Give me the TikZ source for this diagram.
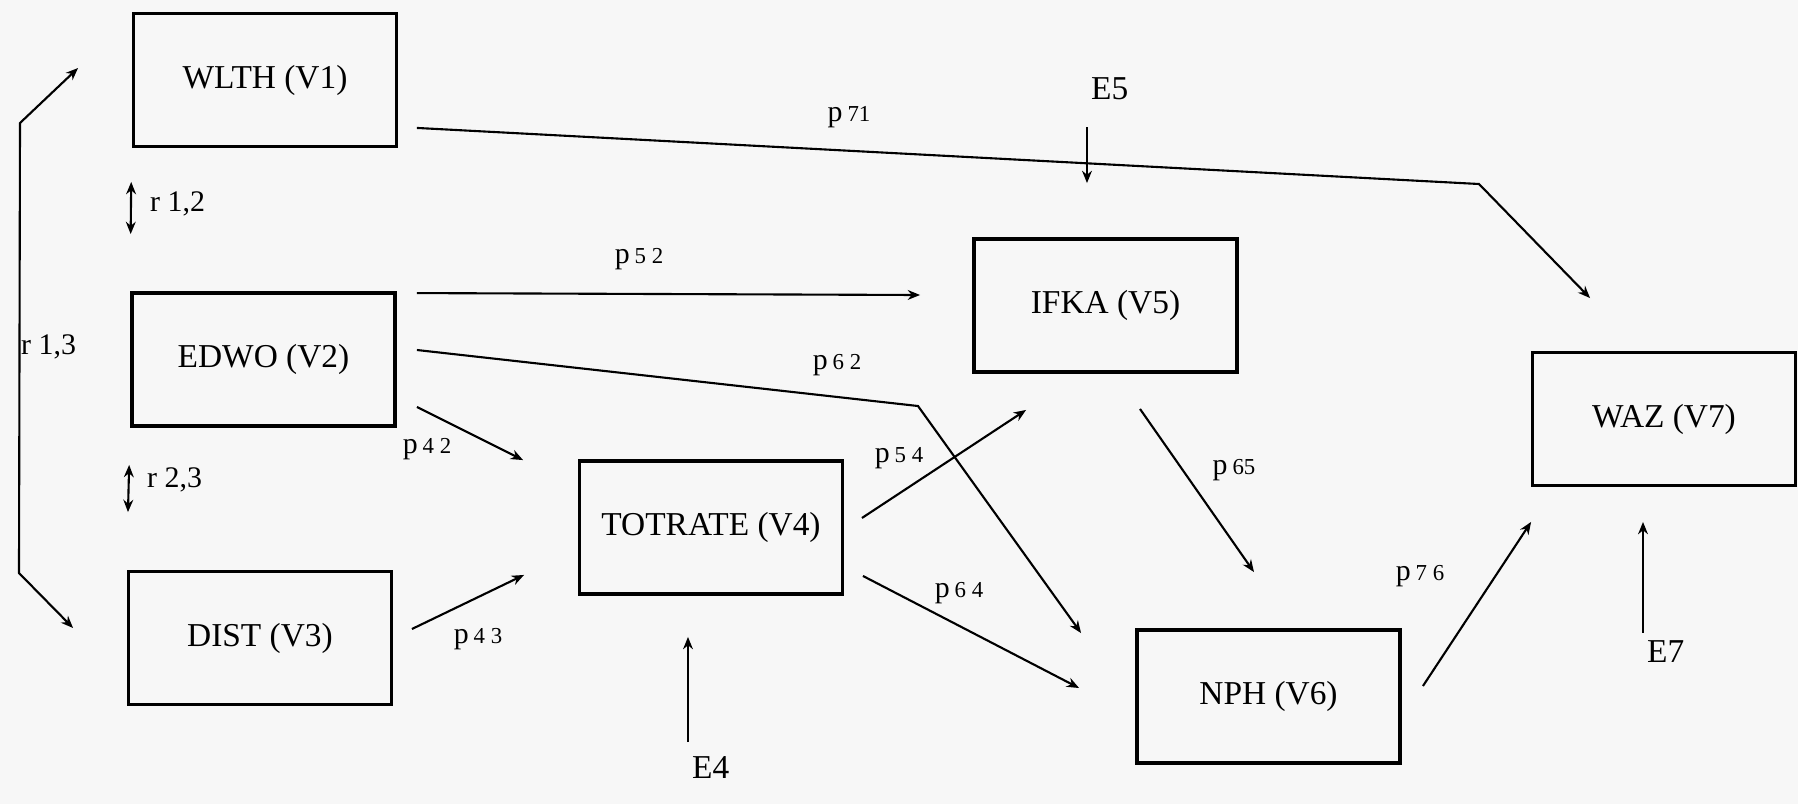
\documentclass[tikz,border=0pt]{standalone}
\usepackage{fontspec}
\setmainfont{Liberation Serif}
\usetikzlibrary{arrows.meta}
\newcommand{\plab}[1]{p\,{\fontsize{6.5}{8}\selectfont #1}}

\begin{document}
\begin{tikzpicture}[scale=1.0,>={Stealth[length=3.5pt,width=2.8pt]},
    var/.style={draw,line width=1.1pt,minimum width=2.63cm,minimum height=1.33cm,
      inner sep=0pt,font=\fontsize{9.5}{11}\selectfont},
    arr/.style={->,line width=0.6pt},
    corr/.style={<->,line width=0.6pt},
    lab/.style={inner sep=1pt,font=\fontsize{8.5}{10}\selectfont},
    err/.style={inner sep=1pt,font=\fontsize{9.5}{11}\selectfont}]
    \path[use as bounding box,fill=black!3] (0,0) rectangle (17.98,8.04);
    % variables
    \node[var] (v1) at (2.65,7.24) {WLTH (V1)};
    \node[var] (v2) at (2.635,4.445) {EDWO (V2)};
    \node[var] (v3) at (2.60,1.66) {DIST (V3)};
    \node[var] (v4) at (7.11,2.765) {TOTRATE (V4)};
    \node[var] (v5) at (11.055,4.985) {IFKA (V5)};
    \node[var] (v6) at (12.685,1.075) {NPH (V6)};
    \node[var] (v7) at (16.64,3.85) {WAZ (V7)};
    % error terms
    \node[err,anchor=south west] (e5) at (10.87,7.00) {E5};
    \node[err,anchor=north west] (e4) at (6.88,0.52) {E4};
    \node[err,anchor=north west] (e7) at (16.43,1.675) {E7};
    \coordinate (b71) at (14.79,6.20);
    \coordinate (b62) at (9.18,3.98);
    \coordinate (c13a) at (0.20,6.81);
    \coordinate (c13b) at (0.19,2.31);
    % correlations
    \draw[corr,shorten <=3.35mm,shorten >=5.7mm] (v1.south west) -- (v2.north west);
    \draw[corr,shorten <=3.7mm,shorten >=5.75mm] (v2.south west) -- (v3.north west);
    \draw[corr] ([xshift=-5.35mm,yshift=1.2mm]v1.west) -- (c13a) -- (c13b)
      -- ([xshift=-5.35mm,yshift=1mm]v3.west);
    \node[lab,anchor=west] (l12) at (1.46,6.00) {r 1,2};
    \node[lab,anchor=west] (l23) at (1.43,3.24) {r 2,3};
    \node[lab,anchor=west] (l13) at (0.17,4.57) {r 1,3};
    % paths
    \draw[arr] ([xshift=1.85mm,yshift=2.05mm]v1.south east) -- (b71)
      -- ([xshift=5.95mm,yshift=5.25mm]v7.north west);
    \draw[arr] ([xshift=2mm,yshift=-0.2mm]v2.north east) -- ([xshift=-5.2mm,yshift=1.05mm]v5.west);
    \draw[arr] ([xshift=2mm,yshift=0.95mm]v2.east) -- (b62)
      -- ([xshift=-5.4mm,yshift=-0.5mm]v6.north west);
    \draw[arr] ([xshift=2mm,yshift=2.1mm]v2.south east) -- ([xshift=-5.45mm,yshift=-0.1mm]v4.north west);
    \draw[arr] ([xshift=1.85mm,yshift=0.9mm]v3.east) -- ([xshift=-5.35mm,yshift=2.1mm]v4.south west);
    \draw[arr] ([xshift=1.75mm,yshift=0.95mm]v4.east) -- ([xshift=5.4mm,yshift=-3.6mm]v5.south west);
    \draw[arr] ([xshift=1.85mm,yshift=2mm]v4.south east) -- ([xshift=-5.6mm,yshift=0.85mm]v6.west);
    \draw[arr] ([xshift=3.45mm,yshift=-3.5mm]v5.south) -- ([xshift=-1.45mm,yshift=5.6mm]v6.north);
    \draw[arr] ([xshift=2.1mm,yshift=1.05mm]v6.east) -- ([xshift=0.05mm,yshift=-3.45mm]v7.south west);
    \draw[arr,shorten <=2.3mm,shorten >=5.4mm] (e5.south west) -- (e5.south west |- v5.north);
    \draw[arr,shorten <=1mm,shorten >=4.1mm] (e4.north west) -- (e4.north west |- v4.south);
    \draw[arr,shorten <=0.4mm,shorten >=3.45mm] (e7.north west) -- (e7.north west |- v7.south);
    \node[lab] (l71) at (8.49,6.87) {\plab{71}};
    \node[lab] (l52) at (6.39,5.45) {\plab{5 2}};
    \node[lab] (l62) at (8.37,4.39) {\plab{6 2}};
    \node[lab] (l42) at (4.27,3.55) {\plab{4 2}};
    \node[lab] (l43) at (4.78,1.65) {\plab{4 3}};
    \node[lab] (l54) at (8.99,3.46) {\plab{5 4}};
    \node[lab] (l64) at (9.59,2.11) {\plab{6 4}};
    \node[lab] (l65) at (12.34,3.34) {\plab{65}};
    \node[lab] (l76) at (14.20,2.28) {\plab{7 6}};
\end{tikzpicture}
\end{document}
